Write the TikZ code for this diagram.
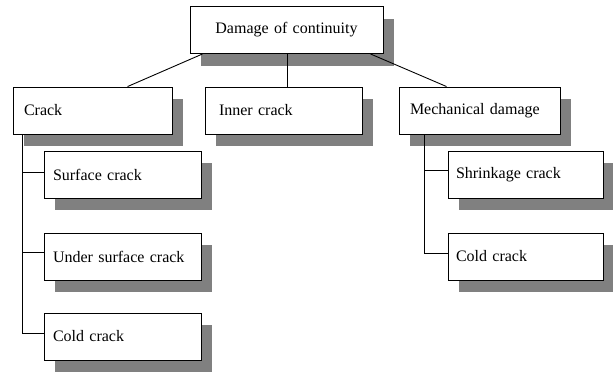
\documentclass[tikz,border=0pt]{standalone}
\usepackage{fontspec}
\setmainfont{Liberation Serif}
\usetikzlibrary{shadows}
\definecolor{shadowgray}{RGB}{128,128,128}
\tikzset{
  bx/.style={draw=black, fill=white, line width=0.9pt, rectangle, minimum height=47pt,
    inner xsep=11pt, inner ysep=0pt, align=left, font=\fontsize{16}{19}\selectfont,
    drop shadow={shadow xshift=11pt, shadow yshift=-12pt, fill=shadowgray, opacity=1}},
  ln/.style={draw=black, line width=0.9pt}
}
\begin{document}
\begin{tikzpicture}[x=1pt, y=-1pt]
\useasboundingbox (0,0) rectangle (613,373);
\node[bx, text width=171pt, align=center] (top) at (286.5,30) {Damage of continuity};
\node[bx, text width=137pt] (crack) at (92.5,110.5) {Crack};
\node[bx, text width=129pt, inner xsep=14pt] (inner) at (283.5,110.5) {Inner crack};
\node[bx, text width=139pt] (mech) at (479.5,110.5) {Mechanical damage};
\node[bx, text width=139pt, inner xsep=9pt] (surf) at (122.5,174.5) {Surface crack};
\node[bx, text width=139pt, inner xsep=9pt] (under) at (122.5,256.5) {Under surface crack};
\node[bx, text width=139pt, inner xsep=9pt] (coldl) at (122.5,336.5) {Cold crack};
\node[bx, text width=139pt, inner xsep=8pt] (shrink) at (525.5,174.5) {Shrinkage crack};
\node[bx, text width=139pt, inner xsep=8pt] (coldr) at (525.5,256.5) {Cold crack};
% top connectors
\draw[ln] ([xshift=13pt]top.south west) -- ([xshift=115pt]crack.north west);
\draw[ln] ([xshift=0.5pt]top.south) -- ([xshift=3.5pt]inner.north);
\draw[ln] ([xshift=-13pt]top.south east) -- ([xshift=48pt]mech.north west);
% left tree
\coordinate (lv) at ([xshift=10pt]crack.south west);
\coordinate (s1) at ([yshift=2pt]surf.west);
\coordinate (s2) at ([yshift=4pt]under.west);
\coordinate (s3) at ([yshift=3pt]coldl.west);
\draw[ln] (lv) |- (s3);
\draw[ln] (lv |- s1) -- (s1);
\draw[ln] (lv |- s2) -- (s2);
% right tree
\coordinate (rv) at ([xshift=26pt]mech.south west);
\coordinate (r1) at ([yshift=4pt]shrink.west);
\coordinate (r2) at ([yshift=3pt]coldr.west);
\draw[ln] (rv) |- (r2);
\draw[ln] (rv |- r1) -- (r1);
\end{tikzpicture}
\end{document}
